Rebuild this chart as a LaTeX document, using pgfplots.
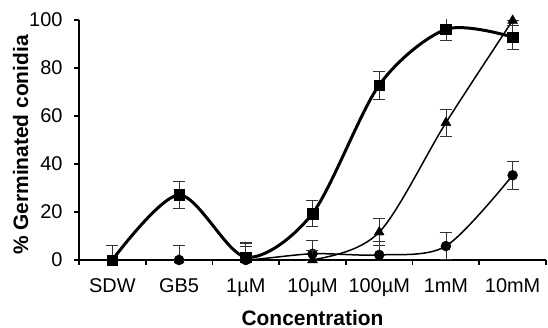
\documentclass[border=0pt]{standalone}
\usepackage{fontspec}
\setmainfont{Liberation Sans}
\usepackage{pgfplots}
\pgfplotsset{compat=1.18}
\newcommand\tl{\fontsize{20}{24}\selectfont}
\newcommand\al{\bfseries\fontsize{21}{24}\selectfont}
\begin{document}
\begin{tikzpicture}
\begin{axis}[
  scale only axis, width=467bp, height=240bp,
  xmin=-0.5, xmax=6.5, ymin=0, ymax=100,
  axis x line*=bottom, axis y line*=left,
  axis line style={line width=1.8bp, -},
  xtick={-0.5,0.5,1.5,2.5,3.5,4.5,5.5,6.5}, xticklabels={},
  extra x ticks={0,1,2,3,4,5,6},
  extra x tick labels={\tl SDW,\tl GB5,\tl 1µM,\tl 10µM,\tl 100µM,\tl 1mM,\tl 10mM},
  extra x tick style={major tick length=0pt, xticklabel style={anchor=base, yshift=-32bp}},
  ytick={0,20,40,60,80,100},
  yticklabels={\tl 0,\tl 20,\tl 40,\tl 60,\tl 80,\tl 100},
  yticklabel style={xshift=-8bp},
  tick align=outside, major tick length=5bp,
  tick style={line width=1.8bp, black},
  xlabel={\al Concentration}, ylabel={\al \% Germinated conidia},
  x label style={at={(axis description cs:0.5,-0.271)}, anchor=base},
  y label style={at={(axis description cs:-0.109,0.479)}, anchor=base, rotate=0},
  clip mode=individual,
  error bars/y dir=both, error bars/y explicit,
  error bars/error bar style={line width=0.7bp, black!80},
  error bars/error mark options={rotate=90, mark size=6bp, line width=0.7bp, black!80},
]
% circles
\addplot[black, line width=1.5bp, smooth, mark=*, mark size=5bp, mark options={solid, line width=0.4bp}]
  coordinates {
  (0,0) += (0,6) -= (0,0)
  (1,0) += (0,6) -= (0,0)
  (2,0) += (0,7) -= (0,0)
  (3,2.6) +- (0,5.6)
  (4,2.1) +- (0,5.5)
  (5,5.8) +- (0,5.6)
  (6,35.3) +- (0,5.7)
  };
% triangles
\addplot[black, line width=1.5bp, smooth, mark=triangle*, mark size=5.7bp, mark options={solid, line width=0.4bp}]
  coordinates {
  (0,0) += (0,0) -= (0,0)
  (1,0) += (0,0) -= (0,0)
  (2,0) += (0,5.8) -= (0,0)
  (3,0) += (0,4) -= (0,0)
  (4,11.6) +- (0,5.7)
  (5,57.2) +- (0,5.6)
  (6,99.8) += (0,0) -= (0,5)
  };
% squares
\addplot[black, line width=3bp, smooth, mark=square*, mark size=5.3bp, mark options={solid, line width=0.4bp}]
  coordinates {
  (0,0) += (0,6.2) -= (0,0)
  (1,27.1) +- (0,5.5)
  (2,1.2) +- (0,6)
  (3,19.4) +- (0,5.3)
  (4,72.9) +- (0,5.8)
  (5,96.1) +- (0,4.5)
  (6,92.9) +- (0,5)
  };
\end{axis}
\pgfresetboundingbox
\path ([shift={(-79bp,-68bp)}]current axis.south west) rectangle ([shift={(469bp,260bp)}]current axis.south west);
\end{tikzpicture}
\end{document}
